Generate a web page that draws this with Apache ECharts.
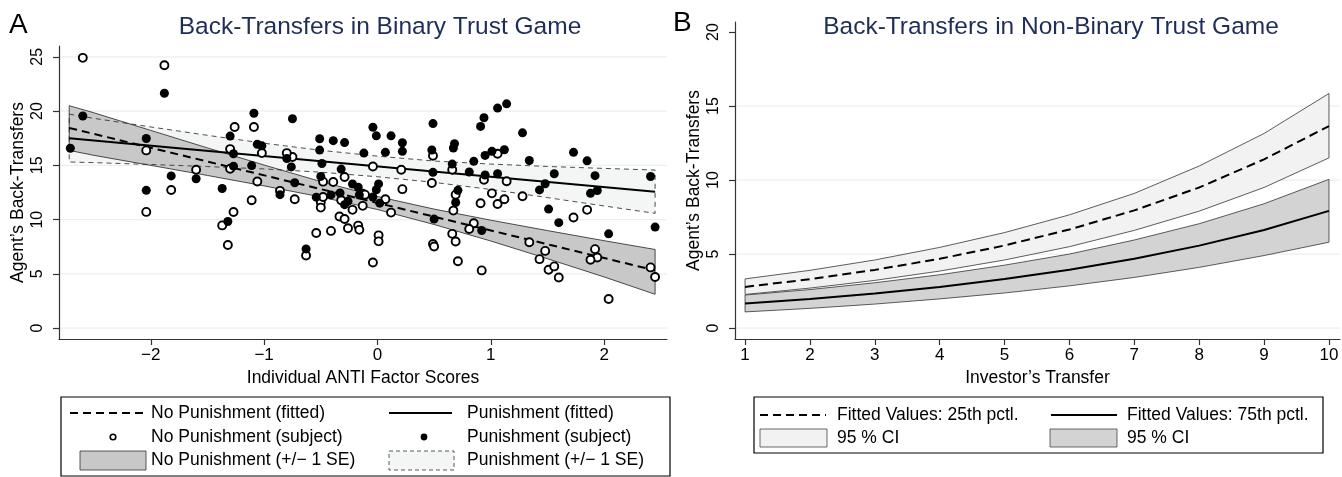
<!DOCTYPE html>
<html>
<head>
<meta charset="utf-8">
<script src="https://cdn.jsdelivr.net/npm/echarts@6/dist/echarts.min.js"></script>
<style>
html,body{margin:0;padding:0;background:#fff;}
#chart{width:1342px;height:477px;}
</style>
</head>
<body>
<div id="chart"></div>
<script>
// ---------- Panel A data ----------
const npX = [-2.60,-1.88,-2.04,-2.04,-1.82,-1.60,-1.26,-1.09,-1.30,-1.30,-1.02,-1.06,-1.11,-1.27,-1.37,-1.32,
  -0.75,-0.80,-0.86,-0.73,-0.50,-0.50,-0.48,-0.32,-0.13,-0.13,-0.22,-0.39,-0.29,-0.48,-0.335,-0.29,-0.26,-0.17,-0.16,-0.41,-0.54,-0.63,-0.04,0.01,0.01,-0.04,0.21,-0.11,0.07,0.12,0.22,0.49,0.66,0.48,0.69,0.67,0.66,0.69,0.49,0.50,0.71,
  1.06,0.94,1.14,1.01,0.91,1.06,1.12,1.28,1.73,1.85,0.85,0.81,1.34,1.48,1.43,1.51,1.56,1.60,0.92,1.92,1.94,1.88,2.41,2.45,2.04];
const npY = [24.91,24.23,16.38,10.71,12.73,14.60,18.53,18.53,16.50,14.69,16.13,13.52,11.79,10.70,9.47,7.66,
  15.77,16.13,12.65,11.88,11.60,11.11,12.09,11.78,12.39,11.27,10.90,13.47,13.93,13.50,10.29,10.06,9.21,9.45,9.06,8.96,8.77,6.70,6.05,8.55,8.00,14.90,14.60,12.30,11.88,10.65,12.81,15.89,14.60,13.37,12.30,10.83,8.69,7.98,7.76,7.52,6.16,
  16.07,13.68,13.53,12.42,11.51,11.44,11.88,12.16,10.19,10.90,9.67,9.13,7.91,7.12,6.36,5.38,5.69,4.67,5.32,7.28,6.51,6.30,5.60,4.72,2.68];

const pX = [-2.71,-2.60,-1.88,-2.04,-2.04,-1.82,-1.60,-1.30,-1.27,-1.27,-1.37,-1.32,-1.09,-1.06,-1.11,-1.02,
  -0.75,-0.51,-0.39,-0.29,-0.51,-0.80,-0.76,-0.49,-0.50,-0.32,-0.73,-0.86,-0.54,-0.41,-0.33,-0.29,-0.26,-0.22,-0.17,-0.16,-0.63,-0.04,-0.01,0.12,0.22,0.22,0.07,-0.12,0.01,-0.01,-0.04,0.02,0.49,0.48,0.68,0.67,0.66,0.49,0.71,0.69,0.50,
  1.14,1.06,0.94,0.91,1.28,0.85,0.95,1.01,1.12,1.34,1.73,1.85,0.81,0.95,1.06,1.56,1.92,2.41,1.48,1.43,1.88,1.94,1.51,1.60,2.04,2.45,0.92];
const pY = [16.58,19.55,21.65,17.48,12.70,14.03,13.77,17.70,16.07,14.93,12.87,9.83,19.80,16.95,14.98,16.80,
  19.30,17.45,17.28,17.10,16.41,15.63,14.86,15.17,13.98,14.66,13.40,12.30,12.07,12.28,12.45,11.38,11.69,13.28,12.98,12.27,7.30,18.51,17.72,17.72,17.08,16.29,16.20,16.13,13.29,12.75,12.09,11.52,18.85,16.42,17.00,16.60,15.12,14.36,12.70,11.58,10.05,
  20.67,20.28,19.39,18.59,18.00,15.37,15.92,16.29,16.44,15.45,16.20,15.42,14.39,14.11,14.23,14.23,14.05,13.97,13.31,12.74,12.42,12.68,10.97,9.72,8.69,9.31,9.00];

const bandX   = [-2.72,-2.5,-2,-1.5,-1,-0.5,0,0.5,1,1.5,2,2.45];
const npUpper = [20.5,19.84,18.22,16.61,15.03,13.51,12.13,10.97,9.95,8.99,8.06,7.25];
const npLower = [16.38,15.92,15.00,14.07,13.11,12.09,10.93,9.55,8.03,6.40,4.72,3.12];
const pUpper  = [19.72,19.33,18.54,17.77,17.04,16.39,15.85,15.40,15.12,14.90,14.72,14.57];
const pLower  = [15.31,15.25,15.08,14.89,14.67,14.37,13.95,13.43,12.78,12.03,11.26,10.58];

const fitX  = [-2.72, 2.45];
const npFit = [18.45, 5.32];
const pFit  = [17.5, 12.57];

const xTicksA = [-2,-1,0,1,2];
const yTicksA = [0,5,10,15,20,25];
const gridA   = [0,5,10,15,20,25];

// ---------- Panel B data ----------
const transfer = [1,2,3,4,5,6,7,8,9,10];
const fit25 = [2.78,3.30,3.93,4.68,5.58,6.66,7.95,9.50,11.40,13.65];
const up25  = [3.32,3.90,4.60,5.45,6.45,7.65,9.10,10.95,13.15,15.85];
const lo25  = [2.27,2.70,3.22,3.85,4.60,5.50,6.60,7.90,9.50,11.50];
const fit75 = [1.66,1.97,2.34,2.78,3.31,3.94,4.68,5.57,6.63,7.92];
const up75  = [2.23,2.60,3.06,3.60,4.25,5.00,5.95,7.05,8.40,10.05];
const lo75  = [1.09,1.33,1.62,1.97,2.37,2.85,3.42,4.10,4.90,5.80];

const xTicksB = [1,2,3,4,5,6,7,8,9,10];
const yTicksB = [0,5,10,15,20];
const gridB   = [0,5,10,15];

// ---------- helpers ----------
const FONT = 'Liberation Sans, Arial, Helvetica, sans-serif';
const GRIDC = '#e9f0f3';
const AXC = '#333';
const minus = v => v < 0 ? '\u2212' + Math.abs(v) : String(v);

function gridSeries(idx, xmin, ticks) {
  return {
    type: 'custom', xAxisIndex: idx, yAxisIndex: idx, z: 0, silent: true,
    data: ticks.map(v => [xmin, v]),
    encode: {x: 0, y: 1},
    renderItem: (params, api) => {
      const p = api.coord([api.value(0), api.value(1)]);
      const cs = params.coordSys;
      return {type: 'line', shape: {x1: cs.x + 1, y1: p[1], x2: cs.x + cs.width, y2: p[1]},
              style: {stroke: GRIDC, lineWidth: 1.2}};
    }
  };
}

function bandSeries(idx, xs, up, lo, fill, stroke, dash, z) {
  return {
    type: 'custom', xAxisIndex: idx, yAxisIndex: idx, z: z, silent: true,
    data: xs.map((x, i) => [x, up[i], lo[i]]),
    encode: {x: 0, y: [1, 2]},
    renderItem: (params, api) => {
      if (params.dataIndex !== 0) return null;
      const top = xs.map((x, i) => api.coord([x, up[i]]));
      const bot = xs.map((x, i) => api.coord([x, lo[i]])).reverse();
      const pts = top.concat(bot);
      const children = [];
      if (fill) children.push({type: 'polygon', shape: {points: pts}, style: {fill: fill, stroke: null}});
      if (stroke) children.push({type: 'polygon', shape: {points: pts},
        style: {fill: null, stroke: stroke, lineWidth: 0.8, lineDash: dash || null}});
      return {type: 'group', children: children};
    }
  };
}

function lineSeries(idx, xs, ys, dash, z) {
  return {
    type: 'line', xAxisIndex: idx, yAxisIndex: idx, z: z, silent: true,
    data: xs.map((x, i) => [x, ys[i]]),
    symbol: 'none',
    lineStyle: {color: '#000', width: 2, type: dash || 'solid', opacity: 1}
  };
}

function xAxisCfg(idx, min, max, ticks, name) {
  return {
    type: 'value', gridIndex: idx, min: min, max: max,
    axisLine: {show: true, onZero: false, lineStyle: {color: AXC, width: 1.2}},
    axisTick: {show: true, length: 6, customValues: ticks, lineStyle: {color: AXC, width: 1.2}},
    axisLabel: {customValues: ticks, formatter: minus, fontSize: 17, color: '#000', margin: 8, fontFamily: FONT},
    splitLine: {show: false},
    name: name, nameLocation: 'middle', nameGap: 30,
    nameTextStyle: {fontSize: 17.5, color: '#000', fontFamily: FONT}
  };
}
function yAxisCfg(idx, min, max, ticks, name) {
  return {
    type: 'value', gridIndex: idx, min: min, max: max,
    axisLine: {show: true, onZero: false, lineStyle: {color: AXC, width: 1.2}},
    axisTick: {show: true, length: 6, customValues: ticks, lineStyle: {color: AXC, width: 1.2}},
    axisLabel: {customValues: ticks, rotate: 90, fontSize: 16, color: '#000', margin: 13, fontFamily: FONT},
    splitLine: {show: false},
    name: name, nameLocation: 'middle', nameGap: 32,
    nameTextStyle: {fontSize: 17.5, color: '#000', fontFamily: FONT}
  };
}

// ---------- legend graphics ----------
function txt(x, y, s, size, color, align) {
  return {type: 'text', x: x, y: y, silent: true,
    style: {text: s, fontSize: size, fontFamily: FONT, fill: color || '#000',
            align: align || 'left', verticalAlign: 'middle'}};
}
function hline(x1, x2, y, dash, w) {
  return {type: 'line', silent: true, shape: {x1: x1, y1: y, x2: x2, y2: y},
    style: {stroke: '#000', lineWidth: w || 2, lineDash: dash || null}};
}
function box(x, y, w, h, fill, stroke, lw, dash) {
  return {type: 'rect', silent: true, shape: {x: x, y: y, width: w, height: h},
    style: {fill: fill, stroke: stroke, lineWidth: lw, lineDash: dash || null}};
}

const graphics = [
  txt(9, 25, 'A', 28),
  txt(380, 27, 'Back-Transfers in Binary Trust Game', 24.5, '#1f2d59', 'center'),
  txt(673, 23.5, 'B', 28),
  txt(1051, 27, 'Back-Transfers in Non-Binary Trust Game', 24.5, '#1f2d59', 'center'),
  // legend A
  box(61, 397, 609, 79, '#fff', '#000', 1.2),
  hline(70, 146, 413, [8, 5]),
  txt(151, 413, 'No Punishment (fitted)', 17.5),
  hline(389, 452, 413),
  txt(467, 413, 'Punishment (fitted)', 17.5),
  {type: 'circle', silent: true, shape: {cx: 113, cy: 437, r: 2.8}, style: {fill: '#fff', stroke: '#000', lineWidth: 1.6}},
  txt(151, 437, 'No Punishment (subject)', 17.5),
  {type: 'circle', silent: true, shape: {cx: 424, cy: 437, r: 3.4}, style: {fill: '#000', stroke: null}},
  txt(467, 437, 'Punishment (subject)', 17.5),
  box(80, 451, 66, 19, '#c8c8c8', '#333', 0.8),
  txt(151, 460, 'No Punishment (+/\u2212 1 SE)', 17.5),
  box(389, 451, 65, 19, '#f4f6f6', '#333', 0.8, [4, 3]),
  txt(467, 460, 'Punishment (+/\u2212 1 SE)', 17.5),
  // legend B
  box(754, 397, 569, 56, '#fff', '#000', 1.2),
  hline(760, 826, 415, [8, 5]),
  txt(837, 415, 'Fitted Values: 25th pctl.', 17.5),
  hline(1051, 1117, 415),
  txt(1127, 415, 'Fitted Values: 75th pctl.', 17.5),
  box(760, 429, 67, 18, '#f2f2f2', '#444', 0.8),
  txt(837, 438, '95 % CI', 17.5),
  box(1050, 429, 67, 18, '#d3d3d3', '#444', 0.8),
  txt(1127, 438, '95 % CI', 17.5)
];

// ---------- chart ----------
const chart = echarts.init(document.getElementById('chart'), null, {renderer: 'canvas'});
chart.setOption({
  animation: false,
  backgroundColor: '#fff',
  textStyle: {fontFamily: FONT},
  grid: [
    {left: 59, top: 46, width: 608, height: 293, containLabel: false},
    {left: 735, top: 22, width: 605, height: 317, containLabel: false}
  ],
  xAxis: [
    xAxisCfg(0, -2.81, 2.555, xTicksA, 'Individual ANTI Factor Scores'),
    xAxisCfg(1, 0.845, 10.17, xTicksB, 'Investor\u2019s Transfer')
  ],
  yAxis: [
    yAxisCfg(0, -1, 26, yTicksA, 'Agent\u2019s Back-Transfers'),
    yAxisCfg(1, -0.74, 20.68, yTicksB, 'Agent\u2019s Back-Transfers')
  ],
  graphic: graphics,
  series: [
    gridSeries(0, -2.81, gridA),
    gridSeries(1, 0.845, gridB),
    // Panel A bands
    bandSeries(0, bandX, pUpper, pLower, '#f4f6f6', null, null, 1),
    bandSeries(0, bandX, npUpper, npLower, '#c8c8c8', '#222', null, 2),
    bandSeries(0, bandX, pUpper, pLower, null, '#222', [5, 4], 3),
    lineSeries(0, fitX, npFit, [8, 5], 4),
    lineSeries(0, fitX, pFit, 'solid', 4),
    {type: 'scatter', xAxisIndex: 0, yAxisIndex: 0, z: 5, silent: true,
     data: npX.map((x, i) => [x, npY[i]]), symbol: 'circle', symbolSize: 8,
     itemStyle: {color: '#fff', borderColor: '#000', borderWidth: 1.9, opacity: 1}},
    {type: 'scatter', xAxisIndex: 0, yAxisIndex: 0, z: 5, silent: true,
     data: pX.map((x, i) => [x, pY[i]]), symbol: 'circle', symbolSize: 9,
     itemStyle: {color: '#000', borderWidth: 0, opacity: 1}},
    // Panel B
    bandSeries(1, transfer, up25, lo25, '#f2f2f2', '#333', null, 1),
    bandSeries(1, transfer, up75, lo75, '#d3d3d3', '#333', null, 2),
    lineSeries(1, transfer, fit25, [9, 5], 4),
    lineSeries(1, transfer, fit75, 'solid', 4)
  ]
});
</script>
</body>
</html>
